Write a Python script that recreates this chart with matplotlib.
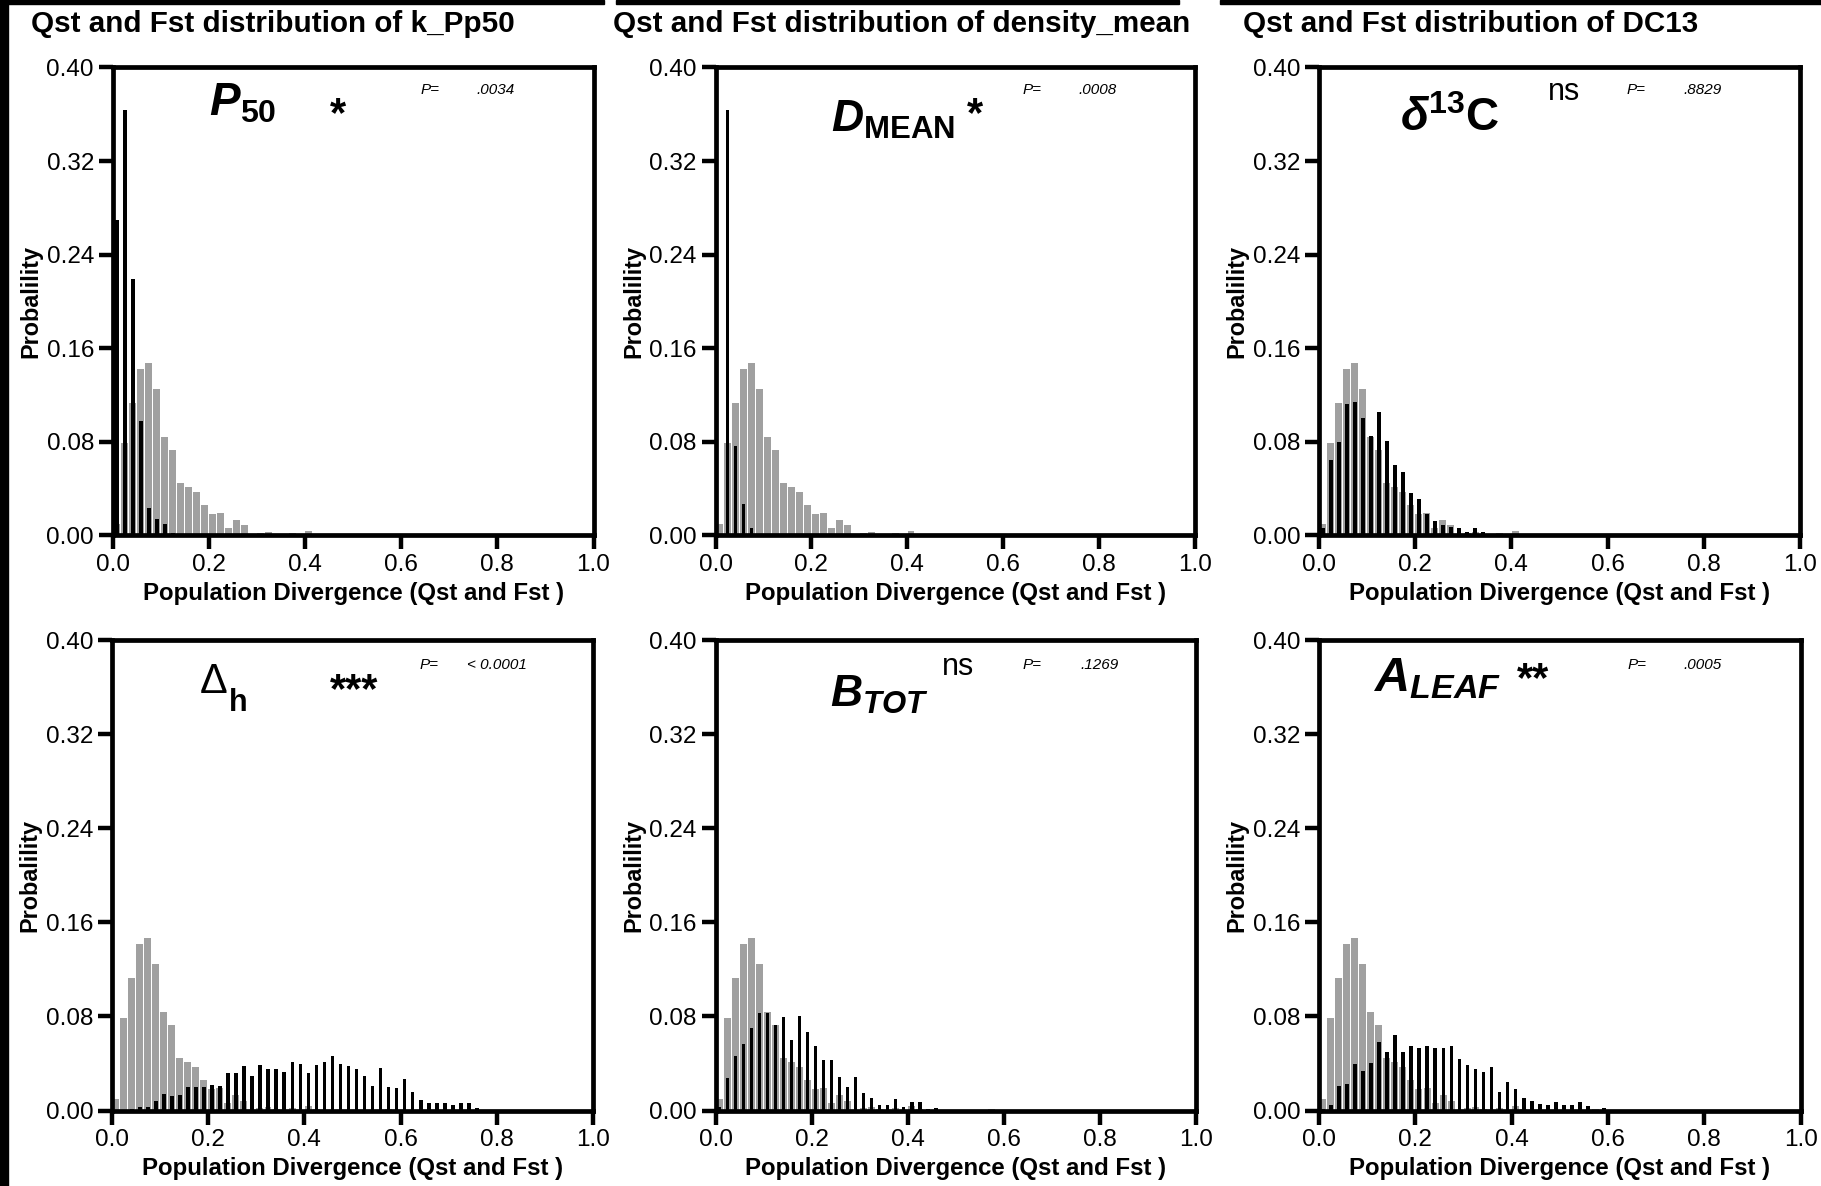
import numpy as np
import matplotlib
matplotlib.use("Agg")
import matplotlib.pyplot as plt
from matplotlib.patches import Rectangle

plt.rcParams['font.family'] = ['Liberation Sans', 'DejaVu Sans']
plt.rcParams['mathtext.fontset'] = 'custom'
plt.rcParams['mathtext.rm'] = 'Liberation Sans'
plt.rcParams['mathtext.it'] = 'Liberation Sans:italic'
plt.rcParams['mathtext.bf'] = 'Liberation Sans:bold'
plt.rcParams['mathtext.bfit'] = 'Liberation Sans:bold:italic'

W, H = 1821, 1186
DPI = 100

# histograms use 60 bins over 0..1
n_bins = 60

# neutral Fst distribution (grey bars), the same in every panel
fst = [0.0097, 0.079, 0.113, 0.142, 0.147, 0.125, 0.084, 0.073, 0.045, 0.041,
       0.037, 0.026, 0.0187, 0.019, 0.0066, 0.013, 0.0085, 0.0, 0.0018, 0.003,
       0.001, 0.0, 0.0018, 0.0, 0.0035, 0.001, 0.0, 0.0, 0.0, 0.0,
       0.0, 0.0, 0.0, 0.0, 0.001]

# Qst distributions (black bars), one per trait
qst_p50 = [0.270, 0.364, 0.219, 0.098, 0.023, 0.014, 0.010, 0.002]
qst_dmean = [0.0, 0.364, 0.076, 0.027, 0.006]
qst_dc13 = [0.0063, 0.0648, 0.0795, 0.1125, 0.1143, 0.1005, 0.085, 0.1058, 0.0803, 0.060,
            0.054, 0.036, 0.0307, 0.018, 0.0126, 0.0085, 0.007, 0.0063, 0.0032, 0.006,
            0.003, 0.001, 0.001]
qst_dh = [0.0, 0.0006, 0.001, 0.003, 0.003, 0.0083, 0.014, 0.0124, 0.013, 0.0204,
          0.0204, 0.020, 0.022, 0.0207, 0.0318, 0.0318, 0.0378, 0.0296, 0.0388, 0.0356,
          0.035, 0.033, 0.0413, 0.0394, 0.0315, 0.0388, 0.0413, 0.0464, 0.0394, 0.038,
          0.0353, 0.0293, 0.021, 0.0362, 0.0204, 0.0188, 0.0264, 0.0159, 0.0092, 0.0067,
          0.0067, 0.0067, 0.0045, 0.0064, 0.0064, 0.0025]
qst_btot = [0.003, 0.028, 0.0464, 0.0566, 0.0703, 0.0833, 0.0833, 0.0731, 0.0798, 0.0598,
            0.0808, 0.0665, 0.055, 0.0426, 0.0426, 0.0283, 0.020, 0.0283, 0.0146, 0.0105,
            0.005, 0.005, 0.0095, 0.003, 0.0073, 0.0073, 0.0016, 0.0025]
qst_aleaf = [0.0013, 0.0045, 0.021, 0.0223, 0.0394, 0.0337, 0.040, 0.058, 0.0496, 0.064,
             0.050, 0.0553, 0.0534, 0.0547, 0.0534, 0.0534, 0.0553, 0.0439, 0.0385, 0.0353,
             0.0328, 0.0369, 0.0159, 0.0242, 0.0184, 0.0105, 0.0083, 0.0057, 0.0051, 0.0073,
             0.0051, 0.0051, 0.0073, 0.0035, 0.0, 0.0025]

qst_series = [qst_p50, qst_dmean, qst_dc13, qst_dh, qst_btot, qst_aleaf]

titles = ["Qst and Fst distribution of k_Pp50",
          "Qst and Fst distribution of density_mean",
          "Qst and Fst distribution of DC13"]
# trait name: main symbol and subscript/superscript part
trait_labels = [r'$\mathbfit{P}_{\mathbf{50}}$',
                r'$\mathbfit{D}_{\mathbf{MEAN}}$',
                r'$\mathbfit{δ}^{\mathbf{13}}\mathbf{C}$',
                None,
                r'$\mathbfit{B}_{\mathbfit{TOT}}$',
                r'$\mathbfit{A}_{\mathbfit{LEAF}}$']
signif = ["*", "*", "ns", "***", "ns", "**"]
p_values = [".0034", ".0008", ".8829", "< 0.0001", ".1269", ".0005"]

x_ticks = [0.0, 0.2, 0.4, 0.6, 0.8, 1.0]
y_ticks = [0.0, 0.08, 0.16, 0.24, 0.32, 0.40]

# layout (pixel boxes of the axes: left, top, right, bottom)
boxes = [(112.7, 67.4, 593.5, 535.4), (715.5, 67.4, 1195.0, 535.4),
         (1319.0, 67.4, 1800.0, 535.4), (111.9, 640.4, 593.1, 1110.5),
         (715.5, 640.4, 1195.9, 1110.5), (1318.9, 640.4, 1800.7, 1110.5)]
label_pos = [(0.200, 0.359, 33), (0.240, 0.345, 32), (0.168, 0.3456, 33),
             (0.182, 0.355, 30), (0.239, 0.3437, 32), (0.113, 0.3564, 35)]
signif_pos = [(0.4686, 0.350), (0.5406, 0.350), (0.509, 0.372),
              (0.503, 0.3475), (0.5045, 0.3708), (0.445, 0.357)]
pval_x = [0.757, 0.757, 0.758, 0.737, 0.760, 0.757]
title_x = [31, 613, 1243]

fig = plt.figure(figsize=(W / DPI, H / DPI), dpi=DPI)

bin_w = 1.0 / n_bins
for i, (box, qst) in enumerate(zip(boxes, qst_series)):
    l, t, r, b = box
    ax = fig.add_axes([l / W, 1 - b / H, (r - l) / W, (b - t) / H])

    fx = (np.arange(len(fst)) + 0.5) * bin_w
    ax.bar(fx - 0.0006, fst, width=bin_w * 0.87, color='#a0a0a0', linewidth=0, zorder=2)
    qx = (np.arange(len(qst)) + 0.5) * bin_w
    ax.bar(qx, qst, width=bin_w * 0.46, color='black', linewidth=0, zorder=3)

    ax.set_xlim(0, 1.0)
    ax.set_ylim(0, 0.40)
    ax.set_xticks(x_ticks)
    ax.set_xticklabels(["%.1f" % v for v in x_ticks])
    ax.set_yticks(y_ticks)
    ax.set_yticklabels(["%.2f" % v for v in y_ticks])
    for sp in ax.spines.values():
        sp.set_linewidth(3.4)
        sp.set_zorder(5)
    ax.tick_params(direction='out', length=10, width=3.2, labelsize=17.5, pad=3.5)

    ax.set_ylabel("Probalility", fontsize=16.8, fontweight='bold', labelpad=3)
    ax.set_xlabel("Population Divergence (Qst and Fst )", fontsize=17.3,
                  fontweight='bold', labelpad=4)

    lx, ly, ls = label_pos[i]
    if trait_labels[i] is None:
        # Delta_h: regular capital delta with a deep bold subscript
        ax.text(lx, ly, "Δ", fontsize=ls, ha='left', va='baseline', zorder=6)
        ax.text(lx + 0.062, ly - 0.015, "h", fontsize=22, fontweight='bold',
                ha='left', va='baseline', zorder=6)
    else:
        ax.text(lx, ly, trait_labels[i], fontsize=ls, ha='left', va='baseline', zorder=6)

    sx, sy = signif_pos[i]
    if signif[i] == "ns":
        ax.text(sx, sy, "ns", fontsize=22, ha='center', va='baseline')
    else:
        ax.text(sx, sy, signif[i], fontsize=30, fontweight='bold', ha='center', va='baseline')

    py = 0.377 if i < 3 else 0.3756
    ax.text(0.64, py, "P=", fontsize=11, style='italic', ha='left', va='baseline')
    ax.text(pval_x[i], py, p_values[i], fontsize=11, style='italic', ha='left', va='baseline')

for tx, title in zip(title_x, titles):
    fig.text(tx / W, 1 - 32 / H, title, fontsize=21.3, fontweight='bold',
             ha='left', va='baseline')

# black frame remnants along the left and top edges
fig.patches.append(Rectangle((0, 0), 8 / W, 1, transform=fig.transFigure,
                             color='black', zorder=10))
for x0, x1 in [(0, 604), (616, 1179), (1220, 1821)]:
    fig.patches.append(Rectangle((x0 / W, 1 - 4 / H), (x1 - x0) / W, 4 / H,
                                 transform=fig.transFigure, color='black', zorder=10))

fig.savefig("out.png", dpi=DPI)
